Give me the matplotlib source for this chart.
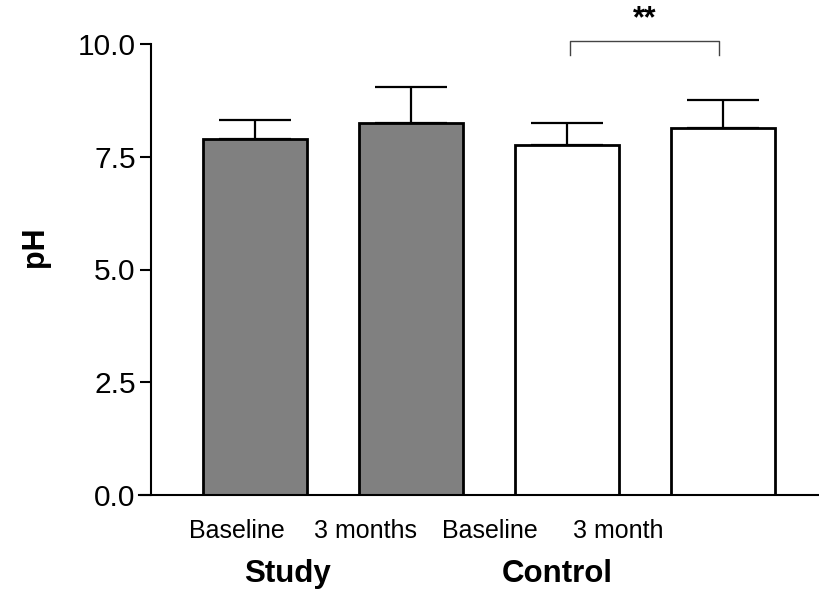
import matplotlib.pyplot as plt

plt.rcParams['font.family'] = ['Liberation Sans', 'DejaVu Sans']

# data
groups = ['Study', 'Control']
conditions = ['Baseline', '3 months', 'Baseline', '3 month']
means = [7.89, 8.24, 7.75, 8.14]
errs = [0.42, 0.80, 0.50, 0.62]
colors = ['#808080', '#808080', 'white', 'white']
yticks = [0.0, 2.5, 5.0, 7.5, 10.0]

x = list(range(len(means)))

fig = plt.figure(figsize=(8.19, 5.97), dpi=100)
ax = fig.add_axes([151 / 819, 102 / 597, 1 - 151 / 819, 451 / 597])

ax.bar(x, means, width=0.667, color=colors, edgecolor='black', linewidth=2.0, zorder=2)
ax.errorbar(x, means, yerr=[[0] * 4, errs], fmt='none', ecolor='black',
            elinewidth=1.6, capsize=26, capthick=1.6, zorder=1)

ax.set_xlim(-0.667, 3.615)
ax.set_ylim(0, 10)
ax.set_yticks(yticks)
ax.set_yticklabels([f'{v:.1f}' for v in yticks], fontsize=21.5)
ax.tick_params(axis='y', length=8, width=1.5, pad=3)

# x labels sit slightly left of the bars in the original
ax.set_xticks([-0.115, 0.705, 1.506, 2.327])
ax.set_xticklabels(conditions, fontsize=18)
ax.tick_params(axis='x', length=0, pad=17)

for s in ['top', 'right']:
    ax.spines[s].set_visible(False)
ax.spines['left'].set_linewidth(1.5)
ax.spines['bottom'].set_linewidth(1.5)
ax.spines['bottom'].set_bounds(-0.667 - 12 / 156, 3.615)
ax.spines['bottom'].set_clip_on(False)

ax.set_ylabel('pH', fontsize=22, fontweight='bold')
ax.yaxis.set_label_coords((50 - 151) / 668, 0.55)

ax.text(0.205, -0.175, groups[0], transform=ax.get_xaxis_transform(),
        ha='center', va='center', fontsize=22.5, fontweight='bold')
ax.text(1.94, -0.175, groups[1], transform=ax.get_xaxis_transform(),
        ha='center', va='center', fontsize=22.5, fontweight='bold')

# significance bracket
bx0, bx1 = 2 + (570 - 567) / 156, 3 + (719 - 723) / 156
ax.plot([bx0, bx0, bx1, bx1], [9.76, 10.07, 10.07, 9.76], color='#444444',
        linewidth=1.0, clip_on=False)
ax.text((bx0 + bx1) / 2, 10.55, '**', ha='center', va='center',
        fontsize=22, fontweight='bold')

fig.savefig('out.png', dpi=100)
